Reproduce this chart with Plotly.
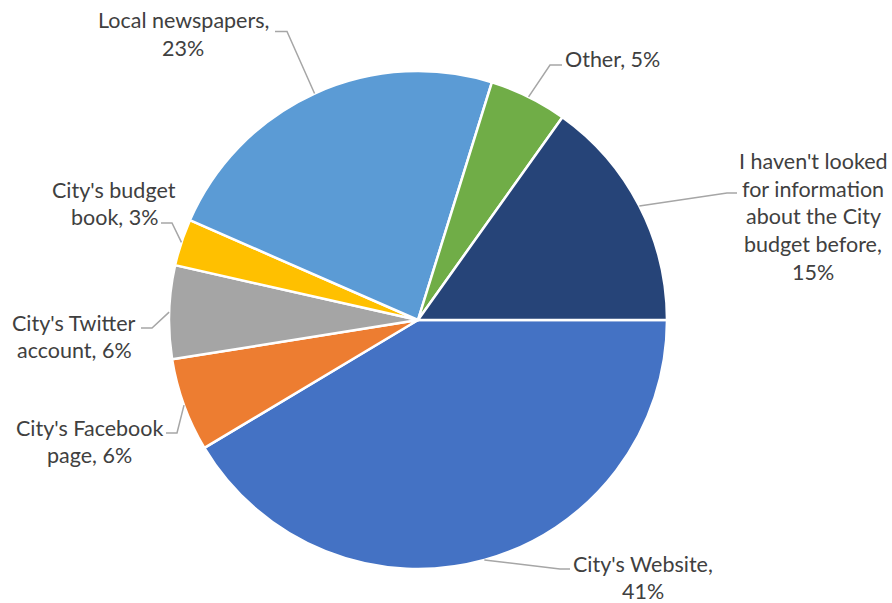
import math
import textwrap
import plotly.graph_objects as go

# ---- data ----
categories = [
    "City's Website",
    "City's Facebook page",
    "City's Twitter account",
    "City's budget book",
    "Local newspapers",
    "Other",
    "I haven't looked for information about the City budget before",
]
values = [41, 6, 6, 3, 23, 5, 15]
colors = ["#4472C4", "#ED7D31", "#A5A5A5", "#FFC000", "#5B9BD5", "#70AD47", "#264478"]

# ---- layout config (pixels) ----
W, H = 892, 603
CX, CY, R = 418, 320, 249
LH = 27.5  # label line spacing
FONT = dict(family="Lato, 'Open Sans', sans-serif", size=21.5, color="#404040")
# (label center x, label center y, wrap width, leader start, leader elbow)
label_layout = [
    (643, 577.5, 15, (570, 569), (560, 569)),
    (89, 441.5, 15, (166, 433), (177, 433)),
    (74, 336.5, 14, (141, 328), (152, 328)),
    (114, 203.5, 13, (161, 223), (172, 223)),
    (183, 34, 17, (275, 31.5), (287, 31.5)),
    (612.5, 59, 20, (562, 65), (550, 65)),
    (813, 216.5, 16, (737, 193), (727, 193)),
]


def px(x):
    return x / W


def py(y):
    return 1 - y / H


fig = go.Figure(
    go.Pie(
        labels=categories,
        values=values,
        marker=dict(colors=colors, line=dict(color="white", width=2.5)),
        sort=False,
        direction="clockwise",
        rotation=90,
        textinfo="none",
        hoverinfo="label+percent",
        domain=dict(x=[px(CX - R), px(CX + R)], y=[py(CY + R), py(CY - R)]),
    )
)

annotations = []
shapes = []
total = sum(values)
cum = 0
for cat, val, (lx, ly, wrap, start, elbow) in zip(categories, values, label_layout):
    a0 = 90 + 360 * cum / total
    mid = math.radians(a0 + 180 * val / total)
    cum += val
    ex = CX + R * math.sin(mid)
    ey = CY - R * math.cos(mid)
    shapes.append(
        dict(
            type="path",
            xref="paper",
            yref="paper",
            path=f"M {px(start[0])} {py(start[1])} L {px(elbow[0])} {py(elbow[1])} L {px(ex)} {py(ey)}",
            line=dict(color="#A6A6A6", width=1.5),
        )
    )
    lines = textwrap.wrap(f"{cat}, {val}%", width=wrap)
    n = len(lines)
    for i, line in enumerate(lines):
        annotations.append(
            dict(
                text=line,
                x=px(lx),
                y=py(ly + (i - (n - 1) / 2) * LH),
                xref="paper",
                yref="paper",
                xanchor="center",
                yanchor="middle",
                showarrow=False,
                font=FONT,
            )
        )

fig.update_layout(
    width=W,
    height=H,
    margin=dict(l=0, r=0, t=0, b=0),
    paper_bgcolor="white",
    plot_bgcolor="white",
    showlegend=False,
    annotations=annotations,
    shapes=shapes,
)

fig.write_html(
    "out.html",
    config={"displayModeBar": False},
    post_script="document.body.style.margin='0';document.body.style.overflow='hidden';",
)
